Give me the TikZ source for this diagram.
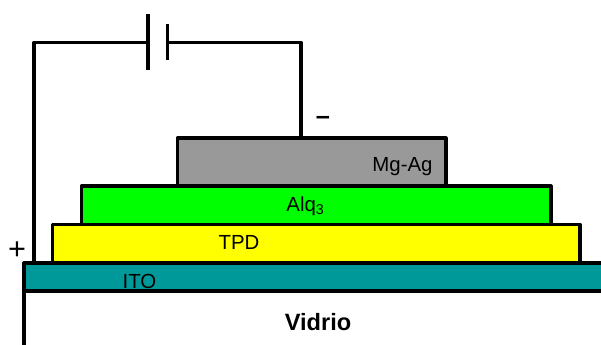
\documentclass[tikz,border=0pt]{standalone}
\usepackage{fontspec}
\setmainfont{Liberation Sans}
\definecolor{tealc}{RGB}{0,153,153}
\definecolor{grayc}{RGB}{153,153,153}
\definecolor{yellowc}{RGB}{255,255,0}
\definecolor{greenc}{RGB}{0,255,0}
\tikzset{
  px/.style={x=0.75pt,y=-0.75pt},
  layer/.style={draw=black,line width=2.4pt,line join=round},
  wire/.style={draw=black,line width=2.4pt,line join=round},
  lbl/.style={inner sep=0pt,text=black,font=\fontsize{15.3}{17}\selectfont},
}
\begin{document}
\begin{tikzpicture}[px]
\useasboundingbox (0,0) rectangle (601,345);
% layers
\draw[layer] (24,346) -- (24,291);
\draw[layer,fill=tealc] (604,291) -- (24,291) -- (24,263) -- (604,263);
\draw[layer,fill=yellowc] (52.5,263) rectangle (580,224.5);
\draw[layer,fill=greenc] (81.5,224.5) rectangle (551,186);
\draw[layer,fill=grayc] (177.5,186) rectangle (446,138);
% named anchors
\coordinate (cathode) at (301,138);
\coordinate (anode) at (34,263);
\coordinate (pa) at (148,42.5);
\coordinate (pb) at (167.5,42.5);
\coordinate (pat) at (148,14);
\coordinate (pab) at (148,70);
\coordinate (pbt) at (167.5,24);
\coordinate (pbb) at (167.5,60);
% circuit
\draw[wire] (anode) |- (pa);
\draw[wire] (pb) -| (cathode);
\draw[wire] (pat) -- (pab);
\draw[wire] (pbt) -- (pbb);
% labels
\node[lbl] (mgag) at (402.5,166.5) {Mg-Ag};
\node[lbl] (alq) at (305.5,206) {Alq\textsubscript{3}};
\node[lbl] (tpd) at (239,242.5) {TPD};
\node[lbl] (ito) at (139.5,281.5) {ITO};
\node[lbl,font=\fontsize{17.7}{20}\selectfont\bfseries] (vidrio) at (318,322) {Vidrio};
\node[lbl,font=\fontsize{23}{25}\selectfont] (plus) at (17,250.5) {+};
\node[lbl,font=\fontsize{19}{22}\selectfont\bfseries] (minus) at (323,120) {–};
\end{tikzpicture}
\end{document}
